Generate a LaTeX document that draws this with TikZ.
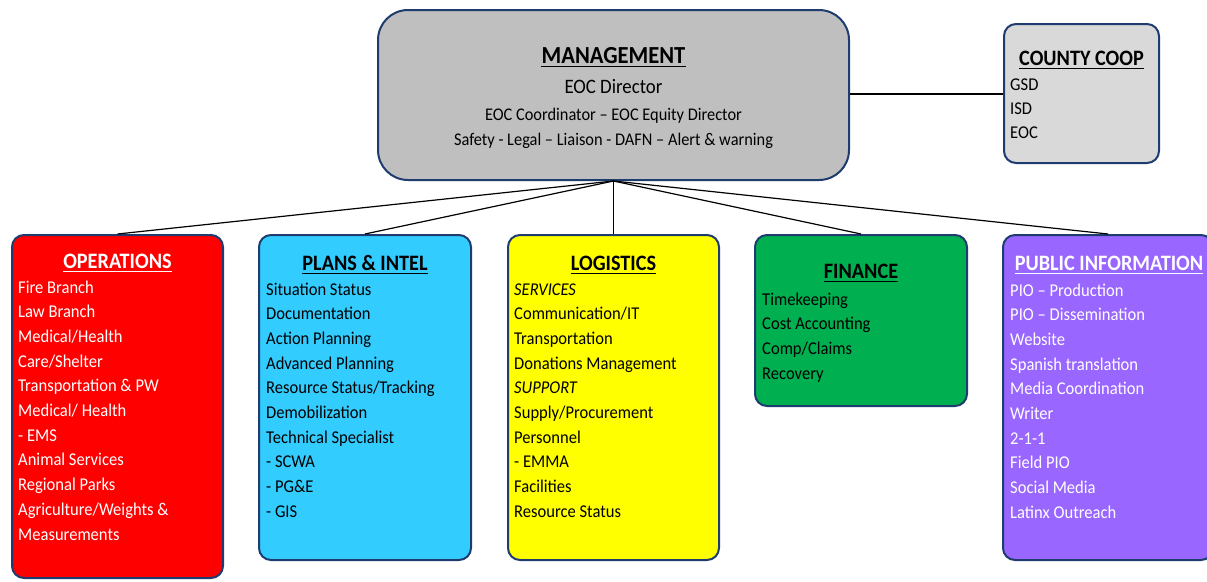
\documentclass[tikz,border=0pt]{standalone}
\usepackage{fontspec}
\setmainfont{Carlito}[FakeStretch=0.92]
\usetikzlibrary{calc}
\definecolor{bordercol}{HTML}{1F3C6E}
\definecolor{mgmtfill}{HTML}{BFBFBF}
\definecolor{coopfill}{HTML}{D9D9D9}
\definecolor{opsfill}{HTML}{FF0000}
\definecolor{plansfill}{HTML}{33CCFF}
\definecolor{logfill}{HTML}{FFFF00}
\definecolor{finfill}{HTML}{00B050}
\definecolor{pifill}{HTML}{9966FF}
\begin{document}
\begin{tikzpicture}[x=1pt,y=-1pt,
  box/.style={draw=bordercol, line width=2pt, rounded corners=12pt, inner sep=0pt},
  conn/.style={draw=black, line width=1.2pt},
  hdr/.style={inner sep=0pt, anchor=base, font=\fontsize{22}{26}\selectfont\bfseries},
  itm/.style={inner sep=0pt, anchor=base west, font=\fontsize{18}{24.7}\selectfont},
  ulline/.style={line width=1.6pt}
]
\useasboundingbox (0,0) rectangle (1207,581);
% boxes
\node[box, fill=mgmtfill, rounded corners=30pt, minimum width=471pt, minimum height=170pt] (mgmt) at (613.5,95) {};
\node[box, fill=coopfill, minimum width=155pt, minimum height=139pt] (coop) at (1081.5,93.5) {};
\node[box, fill=opsfill, minimum width=211pt, minimum height=343pt] (ops) at (117.5,406.5) {};
\node[box, fill=plansfill, minimum width=212pt, minimum height=325pt] (plans) at (365,397.5) {};
\node[box, fill=logfill, minimum width=211pt, minimum height=325pt] (logi) at (613.5,397.5) {};
\node[box, fill=finfill, minimum width=212pt, minimum height=171pt] (fin) at (861,320.5) {};
\node[box, fill=pifill, minimum width=210pt, minimum height=325pt] (pinfo) at (1108,397.5) {};
% connectors
\draw[conn] (mgmt.south) -- (ops.north);
\draw[conn] (mgmt.south) -- (plans.north);
\draw[conn] (mgmt.south) -- (logi.north);
\draw[conn] (mgmt.south) -- (fin.north);
\draw[conn] (mgmt.south) -- (pinfo.north);
\draw[conn] (mgmt.east |- 0,94) -- (coop.west |- 0,94);
% management text
\node[hdr, font=\fontsize{24.5}{28}\selectfont\bfseries] (mgmth) at (613.5,63) {MANAGEMENT};
\draw[ulline] ($(mgmth.base west)+(0,3.5)$) -- ($(mgmth.base east)+(0,3.5)$);
\node[inner sep=0pt, anchor=base, font=\fontsize{20.5}{24}\selectfont] (mgmt1) at (613.5,93) {EOC Director};
\node[inner sep=0pt, anchor=base, font=\fontsize{17.8}{24}\selectfont] (mgmt2) at (613.5,120) {EOC Coordinator – EOC Equity Director};
\node[inner sep=0pt, anchor=base, font=\fontsize{17.8}{24}\selectfont] (mgmt3) at (613.5,145) {Safety - Legal – Liaison - DAFN – Alert \& warning};
% county coop
\node[hdr] (cooph) at (1081.5,65) {COUNTY COOP};
\draw[ulline] ($(cooph.base west)+(0,3.5)$) -- ($(cooph.base east)+(0,3.5)$);
\foreach \t [count=\i] in {GSD,ISD,EOC}
  \node[itm] (coop-\i) at (1010,{90+24.2*(\i-1)}) {\t};
% operations
\node[hdr, text=white] (opsh) at (117.5,268) {OPERATIONS};
\draw[ulline, white] ($(opsh.base west)+(0,3.5)$) -- ($(opsh.base east)+(0,3.5)$);
\foreach \t [count=\i] in {Fire Branch,Law Branch,Medical/Health,Care/Shelter,Transportation \& PW,Medical/ Health,- EMS,Animal Services,Regional Parks,Agriculture/Weights \&,Measurements}
  \node[itm, text=white] (ops-\i) at (18,{293+24.7*(\i-1)}) {\t};
% plans
\node[hdr] (plansh) at (365,270) {PLANS \& INTEL};
\draw[ulline] ($(plansh.base west)+(0,3.5)$) -- ($(plansh.base east)+(0,3.5)$);
\foreach \t [count=\i] in {Situation Status,Documentation,Action Planning,Advanced Planning,Resource Status/Tracking,Demobilization,Technical Specialist,- SCWA,- PG\&E,- GIS}
  \node[itm] (plans-\i) at (266,{295+24.7*(\i-1)}) {\t};
% logistics
\node[hdr] (logih) at (613.5,270) {LOGISTICS};
\draw[ulline] ($(logih.base west)+(0,3.5)$) -- ($(logih.base east)+(0,3.5)$);
\foreach \t [count=\i] in {{\itshape SERVICES},Communication/IT,Transportation,Donations Management,{\itshape SUPPORT},Supply/Procurement,Personnel,- EMMA,Facilities,Resource Status}
  \node[itm] (logi-\i) at (514,{295+24.7*(\i-1)}) {\t};
% finance
\node[hdr] (finh) at (861,278) {FINANCE};
\draw[ulline] ($(finh.base west)+(0,3.5)$) -- ($(finh.base east)+(0,3.5)$);
\foreach \t [count=\i] in {Timekeeping,Cost Accounting,Comp/Claims,Recovery}
  \node[itm] (fin-\i) at (762,{305+24.7*(\i-1)}) {\t};
% public information
\node[hdr, text=white] (pinfoh) at (1109,270) {PUBLIC INFORMATION};
\draw[ulline, white] ($(pinfoh.base west)+(0,3.5)$) -- ($(pinfoh.base east)+(0,3.5)$);
\foreach \t [count=\i] in {PIO – Production,PIO – Dissemination,Website,Spanish translation,Media Coordination,Writer,2-1-1,Field PIO,Social Media,Latinx Outreach}
  \node[itm, text=white] (pinfo-\i) at (1010,{296+24.7*(\i-1)}) {\t};
\end{tikzpicture}
\end{document}
